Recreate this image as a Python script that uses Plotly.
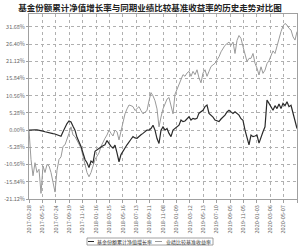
import plotly.graph_objects as go

title_text = "基金份额累计净值增长率与同期业绩比较基准收益率的历史走势对比图"
series_names = ["基金份额累计净值增长率", "业绩比较基准收益率"]

date_labels = ["2017-03-28", "2017-05-25", "2017-07-24", "2017-09-19", "2017-11-16",
               "2018-01-16", "2018-03-15", "2018-05-16", "2018-07-13", "2018-09-11",
               "2018-11-08", "2019-01-09", "2019-03-12", "2019-05-13", "2019-07-10",
               "2019-09-05", "2019-11-05", "2020-01-03", "2020-03-06", "2020-05-07",
               "2020-06-30"]

fund = [0, 0.1, 0.1, 0.1, 0.1, 0.0, 0.0, -0.3, -0.5, -0.7,
        -0.8, -1.0, -1.1, -1.2, -1.4, -1.5, -1.9, -0.5, 1.0, 2.0,
        2.8, 2.5, 1.2, 0.0, -2.2, -3.5, -5.0, -7.0, -9.0, -10.0,
        -11.5, -9.5, -10.0, -6.5, -6.0, -5.5, -5.2, -4.8, -4.5, -3.2,
        -4.2, -5.0, -5.5, -4.6, -7.0, -9.7, -7.5, -6.3, -5.5, -4.5,
        -3.5, -2.8, -2.0, -2.4, -2.5, -1.8, -1.4, -1.0, -0.5, 0.0,
        0.0, 0.5, 1.5, 0.0, -2.6, -4.1, 0.0, 1.0, 0.0, 0.5,
        -1.0, -2.0, 0.0, 0.5, 1.0, 1.5, 3.1, 2.6, 2.8, 3.6,
        4.1, 3.1, 3.6, 3.4, 3.6, 5.2, 5.6, 6.1, 7.2, 7.7,
        5.1, 4.6, 4.0, 3.1, 2.8, 2.6, 3.4, 4.0, 4.6, 5.6,
        6.1, 5.6, 5.1, 5.6, 5.1, 4.6, 3.5, 3.0, 0.0, -2.5,
        -4.5, -1.5, -2.0, -1.8, -1.5, -4.0, -2.0, -0.5, 1.0, 9.2,
        8.2, 7.0, 6.1, 7.5, 6.6, 8.0, 6.6, 8.2, 7.5, 8.7,
        7.2, 7.6, 5.5, 3.1, 0.5]

bench = [0, -9.0, -14.0, -10.0, -13.0, -12.0, -19.4, -11.0, -13.0, -10.5,
         -11.0, -13.0, -16.0, -19.0, -12.3, -9.0, -8.2, -5.0, -4.5, -3.0,
         -1.0, 1.0, -1.5, -2.0, -3.1, -4.0, -5.5, -8.0, -11.0, -13.0,
         -14.3, -13.0, -11.0, -9.0, -8.0, -7.0, -5.0, -3.5, -2.5, -1.5,
         0.0, -1.0, -1.8, 0.0, -0.5, -3.0, 0.0, 3.0, 5.0, 6.5,
         7.7, 7.5, 7.2, 6.0, 6.5, 7.2, 6.0, 5.0, 5.5, 6.0,
         9.0, 11.5, 10.5, 9.0, 6.5, 1.0, 4.0, 6.5, 8.0, 9.5,
         10.0, 7.5, 5.0, 11.0, 12.5, 14.0, 15.5, 17.0, 16.5, 17.5,
         18.0, 16.5, 18.0, 17.0, 18.5, 16.0, 14.5, 17.5, 18.5, 16.5,
         18.0, 19.5, 20.0, 20.5, 21.5, 22.5, 24.0, 25.0, 26.0, 26.5,
         27.0, 26.0, 27.0, 23.5, 27.5, 29.0, 28.1, 25.6, 23.0, 21.0,
         22.0, 22.0, 23.5, 20.5, 19.0, 16.9, 19.4, 17.4, 18.4, 20.4,
         21.3, 23.0, 24.3, 23.5, 25.8, 28.6, 30.2, 31.9, 32.7, 32.2,
         31.2, 30.7, 28.6, 27.6, 30.2]

y_ticks = [-21.12, -15.84, -10.56, -5.28, 0.0, 5.28, 10.56, 15.84, 21.12, 26.40, 31.68]

n = len(fund)
xs = list(range(n))
step = (n - 1) / (len(date_labels) - 1)
tick_pos = [k * step for k in range(len(date_labels))]

fig = go.Figure()
fig.add_trace(go.Scatter(x=xs, y=bench, mode="lines", name=series_names[1],
                         line=dict(color="#9a9a9a", width=1), showlegend=False))
fig.add_trace(go.Scatter(x=xs, y=fund, mode="lines", name=series_names[0],
                         line=dict(color="#2a2a2a", width=1.2), showlegend=False))

font_cjk = "Noto Sans CJK SC"

fig.update_layout(
    width=300, height=246,
    margin=dict(l=29, r=3, t=14, b=47),
    paper_bgcolor="white", plot_bgcolor="white",
    font=dict(family=font_cjk, size=5.5, color="#666"),
    title=dict(text="<b>" + title_text + "</b>", x=0.5, xanchor="center",
               y=1 - 8 / 246, yanchor="middle",
               font=dict(family=font_cjk, size=8.5, color="#222")),
    xaxis=dict(range=[0, n - 1], tickvals=tick_pos, ticktext=date_labels,
               tickangle=-90, showgrid=True, gridcolor="#b0b0b0", griddash="dot",
               gridwidth=0.8, showline=True, linecolor="#a0a0a0", linewidth=1,
               mirror=True, ticks="outside", ticklen=3, tickcolor="#a0a0a0",
               tickfont=dict(size=5.5, color="#666", family=font_cjk),
               zeroline=False),
    yaxis=dict(range=[-21.12, 35.6], tickvals=y_ticks,
               ticktext=["%.2f%%" % v for v in y_ticks],
               showgrid=True, gridcolor="#b0b0b0", griddash="dot", gridwidth=0.8,
               showline=True, linecolor="#a0a0a0", linewidth=1, mirror=True,
               ticks="outside", ticklen=2, tickcolor="#a0a0a0",
               tickfont=dict(size=5.5, color="#666", family=font_cjk),
               zeroline=False),
)

# custom compact legend at the bottom
fig.add_shape(type="rect", xref="paper", yref="paper",
              x0=(87 - 29) / 268, x1=(213 - 29) / 268,
              y0=-(245 - 199) / 185, y1=-(238 - 199) / 185,
              line=dict(color="#888", width=0.8), fillcolor="white")
legend_items = [(88, 94, 95, series_names[0], "#2a2a2a"),
                (155, 162, 164, series_names[1], "#9a9a9a")]
for lx0, lx1, tx, name, col in legend_items:
    yl = -(241.5 - 199) / 185
    fig.add_shape(type="line", xref="paper", yref="paper",
                  x0=(lx0 - 29) / 268, x1=(lx1 - 29) / 268, y0=yl, y1=yl,
                  line=dict(color=col, width=1))
    fig.add_annotation(xref="paper", yref="paper", x=(tx - 29) / 268, y=yl,
                       xanchor="left", yanchor="middle", text=name, showarrow=False,
                       font=dict(family=font_cjk, size=5, color="#333"))

fig.write_html("out.html")
